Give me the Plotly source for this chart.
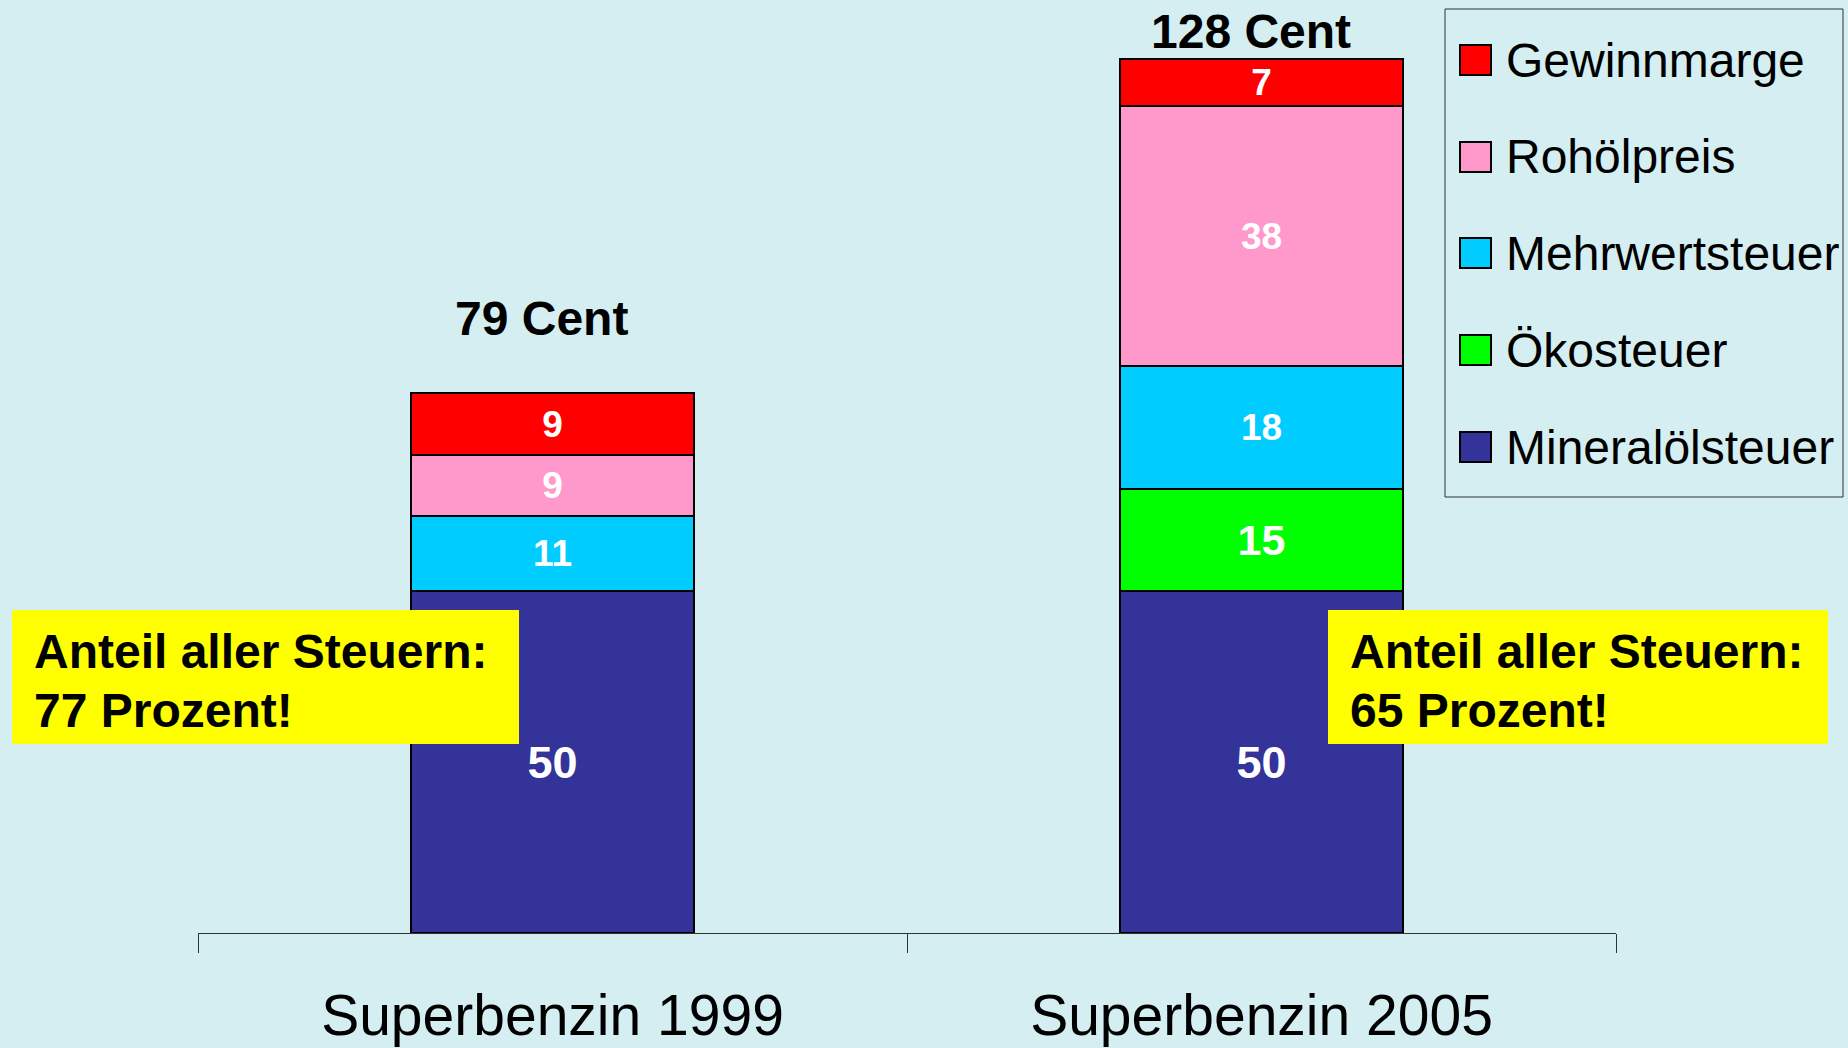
import plotly.graph_objects as go

# ---- data ----
categories = ["Superbenzin 1999", "Superbenzin 2005"]
series_names = ["Mineralölsteuer", "Ökosteuer", "Mehrwertsteuer", "Rohölpreis", "Gewinnmarge"]
mineraloelsteuer = [50, 50]
oekosteuer = [0, 15]
mehrwertsteuer = [11, 18]
rohoelpreis = [9, 38]
gewinnmarge = [9, 7]
total_suffix = " Cent"
tax_share_lines = [["Anteil aller Steuern:", "77 Prozent!"], ["Anteil aller Steuern:", "65 Prozent!"]]

# ---- style ----
series_values = [mineraloelsteuer, oekosteuer, mehrwertsteuer, rohoelpreis, gewinnmarge]
colors = ["#333399", "#00FF00", "#00CCFF", "#FF99CC", "#FF0000"]
label_sizes = [[45, 45], [43, 43], [37, 37], [37, 37], [37, 37]]
bg = "#D4EEF1"
FONT = "Liberation Sans, Arial, sans-serif"

W, H = 1848, 1048
ML, MR, MT, MB = 198, 232, 20, 115
PW, PH = W - ML - MR, H - MT - MB
UNIT_PX = 6.832
YMAX = PH / UNIT_PX


def px_x(X):
    return (X - ML) / PW


def px_y(Y):
    return (H - MB - Y) / PH


fig = go.Figure()
for name, vals, col, sizes in zip(series_names, series_values, colors, label_sizes):
    fig.add_trace(go.Bar(
        x=categories, y=vals, name=name,
        marker=dict(color=col, line=dict(color="#000000", width=2)),
        text=[str(v) if v else "" for v in vals],
        textposition="inside", insidetextanchor="middle",
        constraintext="none",
        textfont=dict(color="white", size=sizes, family=FONT, weight="bold"),
        showlegend=False, hoverinfo="skip",
    ))

annotations = []
shapes = []

# totals above bars
totals = [sum(v[i] for v in series_values) for i in range(len(categories))]
total_yshift = [75, 27]
for cat, tot, ys in zip(categories, totals, total_yshift):
    annotations.append(dict(
        x=cat, y=tot, xref="x", yref="y", text=f"{tot}{total_suffix}",
        showarrow=False, yshift=ys, xshift=-11, yanchor="middle",
        font=dict(size=48, color="black", family=FONT, weight="bold"),
    ))

# yellow tax boxes
boxes = [(12, 519, 610, 744), (1328, 1828, 610, 744)]
line_centers = [651, 710]
for (x0, x1, y0, y1), lines in zip(boxes, tax_share_lines):
    shapes.append(dict(type="rect", xref="paper", yref="paper",
                       x0=px_x(x0), x1=px_x(x1), y0=px_y(y1), y1=px_y(y0),
                       fillcolor="#FFFF00", line=dict(width=0), layer="above"))
    for txt, cy in zip(lines, line_centers):
        annotations.append(dict(
            x=px_x(x0 + 20), y=px_y(cy), xref="paper", yref="paper",
            text=txt, showarrow=False, xanchor="left", yanchor="middle", align="left",
            font=dict(size=48, color="black", family=FONT, weight="bold"),
        ))

# custom legend
shapes.append(dict(type="rect", xref="paper", yref="paper",
                   x0=px_x(1445), x1=px_x(1843), y0=px_y(497), y1=px_y(9),
                   line=dict(color="#333333", width=1), fillcolor="rgba(0,0,0,0)", layer="above"))
legend_centers = [60, 157, 253, 350, 447]
for (name, col), cy in zip(list(zip(series_names, colors))[::-1], legend_centers):
    shapes.append(dict(type="rect", xref="paper", yref="paper",
                       x0=px_x(1460), x1=px_x(1491), y0=px_y(cy + 15), y1=px_y(cy - 15),
                       fillcolor=col, line=dict(color="black", width=2), layer="above"))
    annotations.append(dict(
        x=px_x(1504), y=px_y(cy), xref="paper", yref="paper", text=name,
        showarrow=False, xanchor="left", yanchor="middle",
        font=dict(size=48, color="black", family=FONT),
    ))

fig.update_layout(
    width=W, height=H,
    margin=dict(l=ML, r=MR, t=MT, b=MB, pad=0, autoexpand=False),
    paper_bgcolor=bg, plot_bgcolor=bg,
    barmode="stack", bargap=0.6,
    annotations=annotations, shapes=shapes,
    xaxis=dict(
        showline=True, linecolor="#333333", linewidth=1,
        ticks="outside", tickson="boundaries", ticklen=19, tickcolor="#333333", tickwidth=1,
        tickfont=dict(size=57, color="black", family=FONT),
        showgrid=False, zeroline=False, ticklabelstandoff=33, automargin=False,
    ),
    yaxis=dict(range=[0, YMAX], visible=False, showgrid=False, zeroline=False, automargin=False),
    font=dict(family=FONT),
)

fig.write_html(
    "out.html",
    config={"displayModeBar": False},
    post_script="document.body.style.margin='0';document.body.style.padding='0';"
                "document.body.style.overflow='hidden';document.body.style.background='" + bg + "';",
)
